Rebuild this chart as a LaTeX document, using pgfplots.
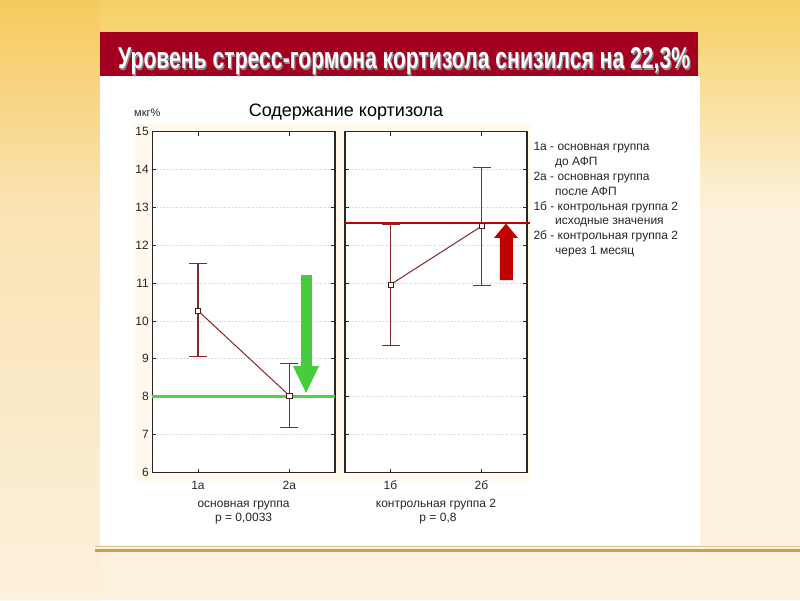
\documentclass[border=0pt]{standalone}
\usepackage{fontspec}
\setmainfont{Liberation Sans}
\setsansfont{Liberation Sans}
\usepackage{graphicx}
\usepackage{pgfplots}
\pgfplotsset{compat=1.18}
\definecolor{barred}{RGB}{163,0,33}
\definecolor{maroon}{RGB}{130,40,40}
\definecolor{grn}{RGB}{70,205,60}
\definecolor{grnline}{RGB}{80,210,70}
\definecolor{rd}{RGB}{195,0,0}
\definecolor{cream}{RGB}{252,241,220}
\definecolor{goldtop}{RGB}{246,208,100}
\definecolor{goldline}{RGB}{200,160,85}
\definecolor{chartbg}{RGB}{255,249,238}
\pgfplotsset{
  panel/.style={
    scale only axis, anchor=south west,
    width=182.7pt, height=341pt,
    xmin=0, xmax=2, ymin=6, ymax=15,
    xtick={0.5,1.5}, ytick={6,7,...,15},
    tick align=inside, major tick length=4pt,
    ymajorgrids, major grid style={dotted, gray!40, line width=0.7pt},
    axis line style={black!85, line width=1.1pt},
    tick style={black!85, line width=0.8pt},
    ticklabel style={font=\fontsize{12}{14}\selectfont, text=black!85},
    /pgf/number format/assume math mode=true,
    xticklabel style={yshift=-5pt},
    axis background/.style={fill=white},
    clip=false,
  },
  ebar/.style={maroon, line width=1pt,
    mark=square*, mark size=2.6pt,
    mark options={fill=white, draw=maroon!60!black, line width=0.8pt},
    error bars/.cd, y dir=both, y explicit,
    error bar style={line width=1.1pt, draw=maroon},
    error mark options={rotate=90, mark size=9pt, line width=1.1pt, draw=maroon}},
}
\begin{document}
\begin{tikzpicture}[x=1pt,y=1pt]
\path[use as bounding box] (0,0) rectangle (800,600);
% background
\fill[cream] (0,0) rectangle (800,600);
\shade[top color=goldtop, bottom color=cream] (0,600) rectangle (800,390);
\shade[top color=goldtop!85!orange, bottom color=cream, opacity=0.45] (0,0) rectangle (100,600);
% slide
\fill[white] (100,55) rectangle (700,524);
\fill[barred] (100,524) rectangle (698,568);
\fill[goldline!60] (95,53.5) rectangle (800,54.5);
\fill[goldline] (95,48.5) rectangle (800,51.5);
\fill[chartbg] (133,119) rectangle (531,477);
% title
\node[anchor=base west, inner sep=0, text=black!45] at (119.2,529.8) {\resizebox{572pt}{21pt}{\bfseries Уровень стресс-гормона кортизола снизился на 22,3\%}};
\node[anchor=base west, inner sep=0, text=white] at (118,531) {\resizebox{572pt}{21pt}{\bfseries Уровень стресс-гормона кортизола снизился на 22,3\%}};
\node[anchor=base, inner sep=0] at (346,483) {\fontsize{18}{20}\selectfont Содержание кортизола};
\node[anchor=base west, inner sep=0, text=black!85] at (134,483) {\fontsize{11}{13}\selectfont мкг\%};

% left panel
\begin{axis}[panel, at={(152.3pt,127.5pt)}, xticklabels={1а,2а}]
\addplot[grnline, line width=2.6pt, forget plot] coordinates {(0,8.0) (2,8.0)};
\addplot[ebar] table[x=x, y=y, y error plus=ep, y error minus=em] {
x y ep em
0.5 10.27 1.24 1.20
1.5 8.03 0.84 0.85
};
\fill[grn] (axis cs:1.628,11.21) -- (axis cs:1.748,11.21) -- (axis cs:1.748,8.81)
  -- (axis cs:1.825,8.81) -- (axis cs:1.683,8.10) -- (axis cs:1.540,8.81)
  -- (axis cs:1.628,8.81) -- cycle;
\end{axis}

% right panel
\begin{axis}[panel, at={(345pt,127.5pt)}, width=182pt, xticklabels={1б,2б}, yticklabels={}]
\addplot[rd, line width=2.2pt, forget plot] coordinates {(0,12.58) (2.03,12.58)};
\addplot[ebar] table[x=x, y=y, y error plus=ep, y error minus=em] {
x y ep em
0.5 10.96 1.60 1.61
1.5 12.50 1.56 1.56
};
\fill[rd] (axis cs:1.703,11.08) -- (axis cs:1.846,11.08) -- (axis cs:1.846,12.19)
  -- (axis cs:1.901,12.19) -- (axis cs:1.769,12.57) -- (axis cs:1.637,12.19)
  -- (axis cs:1.703,12.19) -- cycle;
\end{axis}

% group labels
\begin{scope}[every node/.style={anchor=base, inner sep=0, text=black!85, font=\fontsize{12}{14}\selectfont}]
\node at (243.6,93) {основная группа};
\node at (243.6,79) {p = 0,0033};
\node at (436,93) {контрольная группа 2};
\node at (438,79) {p = 0,8};
\end{scope}

% legend text
\begin{scope}[every node/.style={anchor=base west, inner sep=0, text=black!85, font=\fontsize{12}{14}\selectfont}]
\node at (533.3,449.5) {1а - основная группа};
\node at (555,434.6) {до АФП};
\node at (533.3,419.7) {2а - основная группа};
\node at (555,404.8) {после АФП};
\node at (533.3,389.9) {1б - контрольная группа 2};
\node at (555,375) {исходные значения};
\node at (533.3,360.1) {2б - контрольная группа 2};
\node at (555,345.2) {через 1 месяц};
\end{scope}
\end{tikzpicture}
\end{document}
